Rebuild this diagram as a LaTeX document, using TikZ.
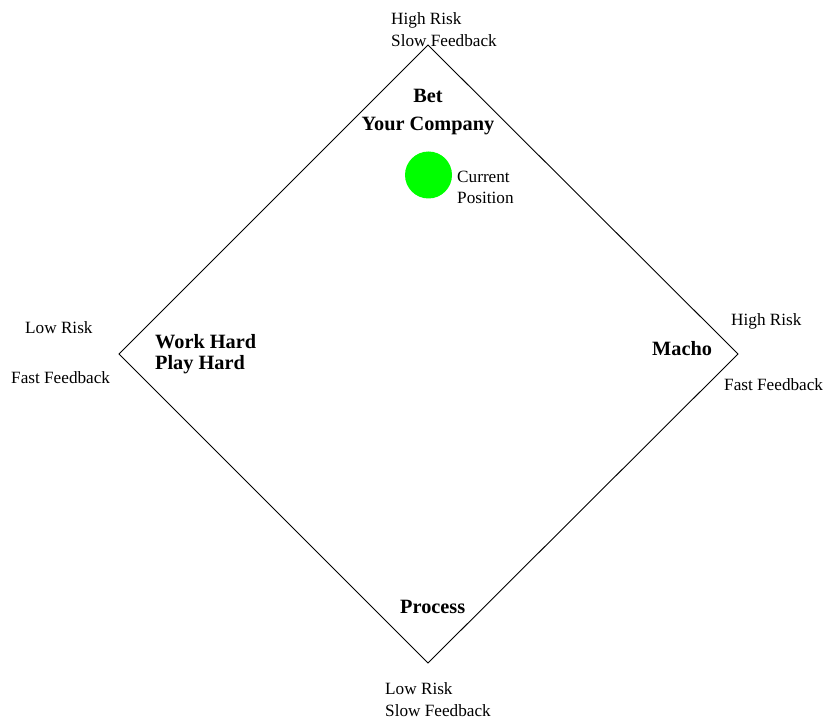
\documentclass[tikz,border=0pt]{standalone}
\usepackage{fontspec}
\setmainfont{Liberation Serif}
\begin{document}
\begin{tikzpicture}[x=1pt,y=-1pt,
  lbl/.style={inner sep=0pt,font=\fontsize{17.2}{21.5}\selectfont,align=left},
  quad/.style={inner sep=0pt,font=\fontsize{20.3}{24}\selectfont\bfseries},
  edge/.style={draw=black,line width=0.9pt}]
\useasboundingbox (0,0) rectangle (825,722);
\coordinate (T) at (428,45);
\coordinate (L) at (119,354);
\coordinate (R) at (738,354);
\coordinate (B) at (428,663);
\draw[edge] (T) -- (R) -- (B) -- (L) -- cycle;
% corner labels
\node[lbl,anchor=west] (topl) at (391,29.5) {High Risk\\Slow Feedback};
\node[lbl,anchor=west] (botl) at (385,699.5) {Low Risk\\Slow Feedback};
\node[lbl,anchor=west] (leftrisk) at (25,328) {Low Risk};
\node[lbl,anchor=west] (leftfb) at (11,378) {Fast Feedback};
\node[lbl,anchor=west] (rightrisk) at (731,321) {High Risk};
\node[lbl,anchor=west] (rightfb) at (724,385) {Fast Feedback};
% quadrant names
\node[quad,align=center] (bet) at (428,112) {Bet\\[4pt]Your Company};
\node[quad,align=left,anchor=west,font=\fontsize{20.3}{21.5}\selectfont\bfseries] (work) at (155,354) {Work Hard\\Play Hard};
\node[quad,anchor=west] (macho) at (652,349) {Macho};
\node[quad,anchor=west] (process) at (400,607) {Process};
% current position
\node[circle,fill=green,inner sep=0pt,minimum size=47pt] (pos) at (428.5,175) {};
\node[lbl,anchor=west] (posl) at (457,187.5) {Current\\Position};
\end{tikzpicture}
\end{document}
